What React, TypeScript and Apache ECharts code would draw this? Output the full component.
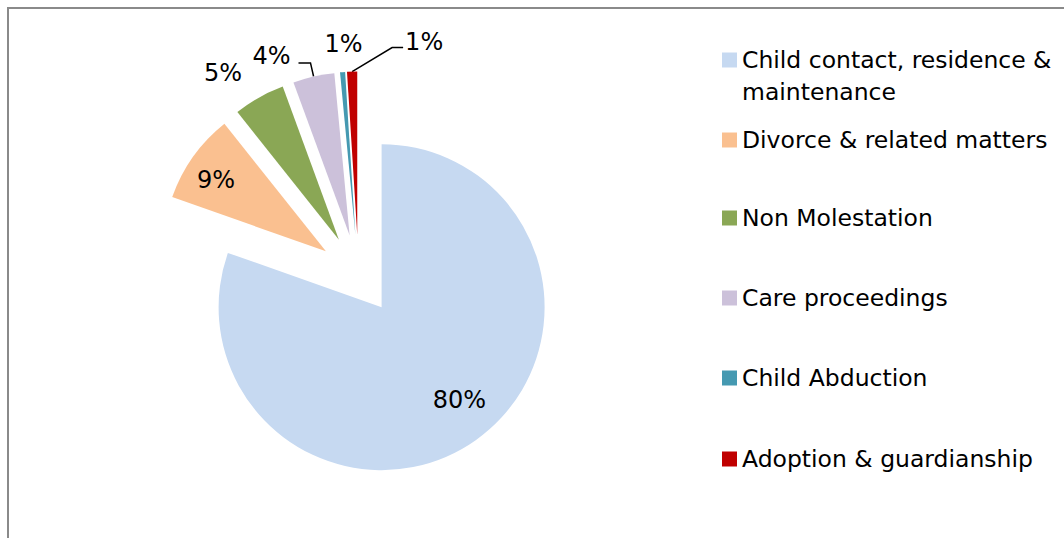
import React, { useEffect, useRef } from "react";
import * as echarts from "echarts";

const categories = [
  "Child contact, residence & maintenance",
  "Divorce & related matters",
  "Non Molestation",
  "Care proceedings",
  "Child Abduction",
  "Adoption & guardianship",
];
const values = [80.4, 8.9, 5.1, 4.1, 0.5, 1.0];
const colors = ["#C6D9F1", "#FAC090", "#8AA755", "#CCC1DA", "#4599B1", "#C00000"];
const legendTops = [12, 124, 202, 282, 362, 443];

const FONT = "'DejaVu Sans', sans-serif";

export default function App() {
  const ref = useRef<HTMLDivElement>(null);
  useEffect(() => {
    if (!ref.current) return;
    const chart = echarts.init(ref.current, undefined, { renderer: "svg" });
    const data = categories.map((name, i) => ({
      name,
      value: values[i],
      selected: true,
      itemStyle: { color: colors[i] },
      label: {
        position: i < 2 ? "inside" : "outside",
      },
      labelLine: { show: i === 3 || i === 5, length: 14, length2: 12 },
    }));
    const legends = categories.map((name, i) => ({
      data: [name],
      orient: "vertical",
      left: 722,
      top: legendTops[i],
      padding: 0,
      itemWidth: 15,
      itemHeight: 15,
      icon: "rect",
      selectedMode: false,
      formatter: (n: string) => (i === 0 ? "\nChild contact, residence &\nmaintenance" : n),
      textStyle: {
        fontFamily: FONT,
        fontSize: 23.5,
        color: "#000",
        lineHeight: 32,
      },
    }));
    chart.setOption({
      animation: false,
      legend: legends,
      graphic: [
        {
          type: "rect",
          shape: { x: 8, y: 8, width: 1200, height: 700 },
          style: { fill: "none", stroke: "#8a8a8a", lineWidth: 2 },
          silent: true,
        },
      ],
      series: [
        {
          type: "pie",
          center: [358.5, 274.5],
          radius: 163,
          startAngle: 90,
          clockwise: true,
          selectedMode: "multiple",
          selectedOffset: 40,
          avoidLabelOverlap: false,
          label: {
            show: true,
            fontFamily: FONT,
            fontSize: 24,
            color: "#000",
            formatter: (p: any) => Math.round(p.percent) + "%",
          },
          labelLine: { lineStyle: { color: "#000", width: 1.5 } },
          emphasis: { disabled: true },
          labelLayout: (p: any) => {
            const i = p.dataIndex;
            const r = p.labelRect;
            const cx = r.x + r.width / 2;
            const cy = r.y + r.height / 2;
            const pts = p.labelLinePoints;
            if (i === 0) return { dx: 29, dy: 24 };
            if (i === 1) return { dx: -41, dy: -22 };
            if (i === 2) return { dx: 7, dy: -12 };
            if (i === 3 && pts) {
              const p2 = pts[pts.length - 1];
              return {
                dx: p2[0] - 8 - (r.x + r.width),
                dy: p2[1] - 7 - cy,
                labelLinePoints: pts,
              };
            }
            if (i === 4 && pts) {
              const p0 = pts[0];
              return { dx: p0[0] + 1 - cx, dy: p0[1] - 28 - cy };
            }
            if (i === 5 && pts) {
              const p0 = pts[0];
              return {
                dx: p0[0] + 53 - r.x,
                dy: p0[1] - 30 - cy,
                labelLinePoints: [p0, [p0[0] + 40, p0[1] - 24], [p0[0] + 51, p0[1] - 24]],
              };
            }
            return {};
          },
          data,
        },
      ],
    });
    return () => chart.dispose();
  }, []);
  return (
    <div
      ref={ref}
      style={{ position: "fixed", left: 0, top: 0, width: 1064, height: 538, background: "#fff" }}
    />
  );
}
